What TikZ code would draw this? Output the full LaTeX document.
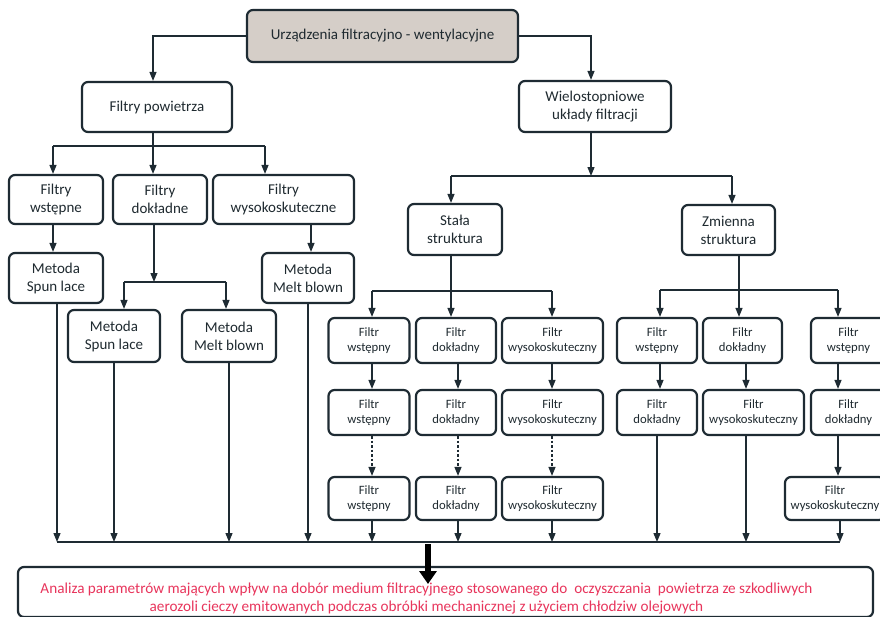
\documentclass[tikz,border=0pt]{standalone}
\usepackage{fontspec}
\setmainfont{Carlito}
\usetikzlibrary{arrows.meta}
\definecolor{edge}{HTML}{1E2B33}
\definecolor{topfill}{HTML}{D5CEC8}
\definecolor{redtxt}{HTML}{E8355C}
\definecolor{txt}{HTML}{1F2A30}
\begin{document}
\begin{tikzpicture}[x=1pt,y=-1pt,
  box/.style={draw=edge, line width=2.2pt, rounded corners=6pt, fill=white, align=center, text=txt, inner sep=1pt},
  big/.style={box, font=\fontsize{15}{18}\selectfont},
  small/.style={box, font=\fontsize{12.7}{15.5}\selectfont, minimum height=45pt},
  arr/.style={draw=edge, line width=1.3pt, -{Triangle[length=9pt,width=7pt]}},
  ln/.style={draw=edge, line width=1.3pt},
  ]
\useasboundingbox (0,0) rectangle (880,616);
% main boxes
\node[big, fill=topfill, minimum width=271pt, minimum height=52pt] (top) at (382.5,36) {Urządzenia filtracyjno - wentylacyjne};
\node[big, minimum width=150pt, minimum height=50pt] (fp) at (157,107) {Filtry powietrza};
\node[big, minimum width=152pt, minimum height=51pt] (wuf) at (595,106.5) {Wielostopniowe\\układy filtracji};
\node[big, minimum width=94pt, minimum height=49pt] (fw) at (56,199.5) {Filtry\\wstępne};
\node[big, minimum width=94pt, minimum height=49pt] (fd) at (160,199.5) {Filtry\\dokładne};
\node[big, minimum width=141pt, minimum height=49pt] (fwy) at (283.5,199.5) {Filtry\\wysokoskuteczne};
\node[big, minimum width=94pt, minimum height=50pt] (msl1) at (56,278) {Metoda\\Spun lace};
\node[big, minimum width=92pt, minimum height=52pt] (msl2) at (114,336) {Metoda\\Spun lace};
\node[big, minimum width=94pt, minimum height=52pt] (mmb2) at (229,336) {Metoda\\Melt blown};
\node[big, minimum width=92pt, minimum height=50pt] (mmb1) at (308,278) {Metoda\\Melt blown};
\node[big, minimum width=94pt, minimum height=51pt] (ss) at (455,229.5) {Stała\\struktura};
\node[big, minimum width=93pt, minimum height=50pt] (zs) at (728.5,230) {Zmienna\\struktura};
% Stala columns
\node[small, minimum width=81pt] (sA1) at (369,340.5) {Filtr\\wstępny};
\node[small, minimum width=80pt] (sB1) at (456,340.5) {Filtr\\dokładny};
\node[small, minimum width=101pt] (sC1) at (552.5,340.5) {Filtr\\wysokoskuteczny};
\node[small, minimum width=81pt] (sA2) at (369,412.5) {Filtr\\wstępny};
\node[small, minimum width=80pt] (sB2) at (456,412.5) {Filtr\\dokładny};
\node[small, minimum width=101pt] (sC2) at (552.5,412.5) {Filtr\\wysokoskuteczny};
\node[small, minimum width=81pt, minimum height=43pt] (sA3) at (369,498.5) {Filtr\\wstępny};
\node[small, minimum width=80pt, minimum height=43pt] (sB3) at (456,498.5) {Filtr\\dokładny};
\node[small, minimum width=101pt, minimum height=43pt] (sC3) at (552.5,498.5) {Filtr\\wysokoskuteczny};
% Zmienna columns
\node[small, minimum width=80pt] (zD1) at (657,340.5) {Filtr\\wstępny};
\node[small, minimum width=79pt] (zE1) at (742.5,340.5) {Filtr\\dokładny};
\node[small, minimum width=75pt] (zF1) at (848.5,340.5) {Filtr\\wstępny};
\node[small, minimum width=80pt] (zD2) at (657,412.5) {Filtr\\dokładny};
\node[small, minimum width=101pt] (zE2) at (753.5,412.5) {Filtr\\wysokoskuteczny};
\node[small, minimum width=75pt] (zF2) at (848.5,412.5) {Filtr\\dokładny};
\node[small, minimum width=100pt, minimum height=43pt] (zF3) at (835,498.5) {Filtr\\wysokoskuteczny};
% result box
\node[box, minimum width=855pt, minimum height=50pt, text=redtxt, font=\fontsize{15.2}{18}\selectfont] (res) at (445.5,592)
  {\raisebox{-7pt}[\height][\depth]{\begin{tabular}{@{}c@{}}Analiza parametrów mających wpływ na dobór medium filtracyjnego stosowanego do~ oczyszczania~ powietrza ze szkodliwych\\aerozoli cieczy emitowanych podczas obróbki mechanicznej z użyciem chłodziw olejowych\end{tabular}}\hspace*{38pt}};

% top connectors
\draw[arr] (top.west) -| ([xshift=-4pt]fp.north);
\draw[arr] (top.east) -| ([xshift=-4pt]wuf.north);
% Filtry powietrza branch
\coordinate (j1) at (153,146);
\coordinate (j1a) at (53,146);
\coordinate (j1c) at (265,146);
\draw[ln] (fp.south -| j1) -- (j1);
\draw[ln] (j1a) -- (j1c);
\draw[arr] (j1a) -- (j1a |- fw.north);
\draw[arr] (j1) -- (j1 |- fd.north);
\draw[arr] (j1c) -- (j1c |- fwy.north);
\draw[arr] (fw.south -| j1a) -- (msl1.north -| j1a);
\coordinate (j2) at (154,282);
\coordinate (j2a) at (124,282);
\coordinate (j2b) at (226,282);
\draw[arr] (fd.south -| j2) -- (j2);
\draw[ln] (j2a) -- (j2b);
\draw[arr] (j2a) -- (j2a |- msl2.north);
\draw[arr] (j2b) -- (j2b |- mmb2.north);
\coordinate (x1) at (311,0);
\draw[arr] (fwy.south -| x1) -- (mmb1.north -| x1);
% bus
\coordinate (busL) at (57,542);
\coordinate (busR) at (840,542);
\draw[ln] (busL) -- (busR);
\draw[arr] (msl1.south -| busL) -- (busL);
\draw[arr] (msl2.south) -- (msl2.south |- busL);
\draw[arr] (mmb2.south) -- (mmb2.south |- busL);
\draw[arr] (mmb1.south) -- (mmb1.south |- busL);
% Wielostopniowe branch
\coordinate (j3) at (591,176);
\coordinate (j3a) at (451,176);
\coordinate (j3b) at (732,176);
\draw[arr] (wuf.south -| j3) -- (j3);
\draw[ln] (j3a) -- (j3b);
\draw[arr] (j3a) -- (j3a |- ss.north);
\draw[arr] (j3b) -- (j3b |- zs.north);
% Stala branch
\coordinate (j4) at (451,291);
\coordinate (j4a) at (372,291);
\coordinate (j4b) at (552,291);
\draw[ln] (ss.south -| j4) -- (j4);
\draw[ln] (j4a) -- (j4b);
\draw[arr] (j4a) -- (j4a |- sA1.north);
\draw[arr] (j4) -- (j4 |- sB1.north);
\draw[arr] (j4b) -- (j4b |- sC1.north);
\coordinate (xB) at (458,0);
\draw[arr] (sA1.south -| j4a) -- (sA2.north -| j4a);
\draw[arr] (sB1.south -| xB) -- (sB2.north -| xB);
\draw[arr] (sC1.south -| j4b) -- (sC2.north -| j4b);
\draw[arr, dash pattern=on 2.5pt off 2pt] (sA2.south -| j4a) -- (sA3.north -| j4a);
\draw[arr, dash pattern=on 2.5pt off 2pt] (sB2.south -| xB) -- (sB3.north -| xB);
\draw[arr, dash pattern=on 2.5pt off 2pt] (sC2.south -| j4b) -- (sC3.north -| j4b);
\draw[arr] (sA3.south -| j4a) -- (busL -| j4a);
\draw[arr] (sB3.south -| xB) -- (busL -| xB);
\draw[arr] (sC3.south -| j4b) -- (busL -| j4b);
% Zmienna branch
\coordinate (j5) at (739,290);
\coordinate (j5a) at (660,290);
\coordinate (j5b) at (838,290);
\draw[ln] (zs.south -| j5) -- (j5);
\draw[ln] (j5a) -- (j5b);
\draw[arr] (j5a) -- (j5a |- zD1.north);
\draw[arr] (j5) -- (j5 |- zE1.north);
\draw[arr] (j5b) -- (j5b |- zF1.north);
\coordinate (xE) at (746,0);
\draw[arr] (zD1.south -| j5a) -- (zD2.north -| j5a);
\draw[arr] (zE1.south -| xE) -- (zE2.north -| xE);
\draw[arr] (zF1.south -| j5b) -- (zF2.north -| j5b);
\draw[arr] (zF2.south -| j5b) -- (zF3.north -| j5b);
\draw[arr] (zD2.south) -- (zD2.south |- busL);
\draw[arr] (zE2.south -| xE) -- (busL -| xE);
\draw[arr] (zF3.south -| busR) -- (busR);
% big arrow
\coordinate (bigA) at (428,544);
\coordinate (bigB) at (428,584);
\draw[line width=6pt, draw=black, -{Triangle[length=13pt,width=17pt]}] (bigA) -- (bigB);
\end{tikzpicture}
\end{document}
